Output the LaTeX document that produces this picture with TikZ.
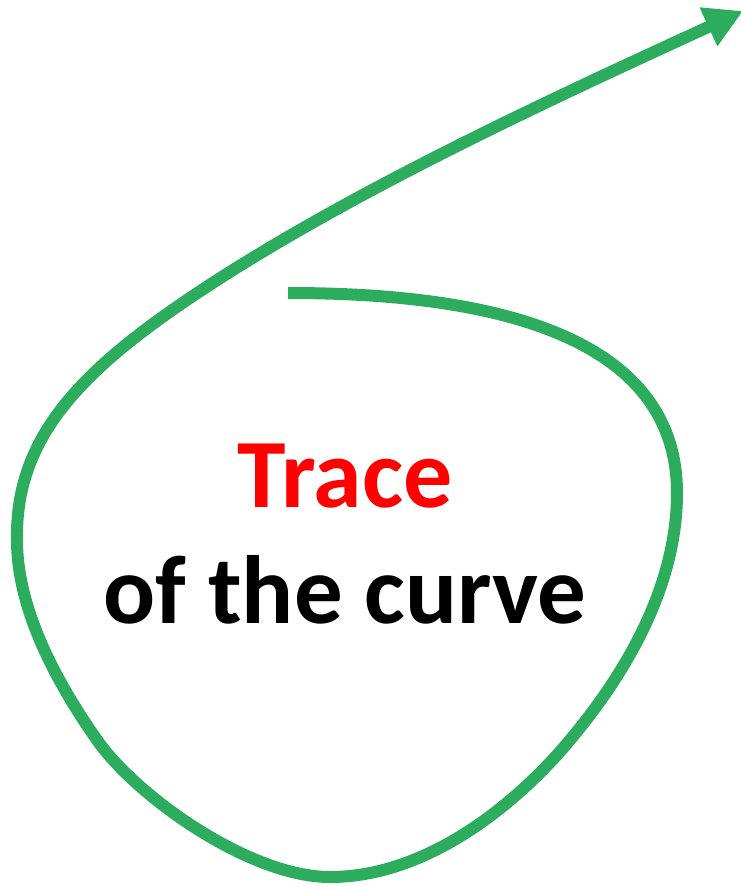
\documentclass[tikz,border=0pt]{standalone}
\usepackage{fontspec}
\setmainfont{Carlito}
\usetikzlibrary{arrows.meta}
\definecolor{tracegreen}{RGB}{44,173,94}

\begin{document}
\begin{tikzpicture}[x=1pt, y=-1pt, >={Triangle[length=38pt, width=40pt]}]
    \useasboundingbox (0,0) rectangle (740,887);

    % Der Linienzug der Kurve
    \draw[->, color=tracegreen, line width=12pt]
        (288,293) to[out=0, in=90] (677,493)
        .. controls (677,600) and (610,692) .. (570,740)
        .. controls (520,800) and (430,877) .. (330,877)
        .. controls (250,877) and (137,797) .. (97,740)
        .. controls (57,683) and (17,610) .. (17,540)
        .. controls (15,430) and (90,360) .. (233,270)
        .. controls (380,178) and (560,95) .. (743,11);

    % Beschriftung
    \node[anchor=base, text=red, font=\fontsize{98}{116}\selectfont\bfseries] (trace) at (345,507) {Trace};
    \node[anchor=base, text=black, font=\fontsize{97}{116}\selectfont\bfseries] (curve) at (345,623) {of the curve};
\end{tikzpicture}
\end{document}
